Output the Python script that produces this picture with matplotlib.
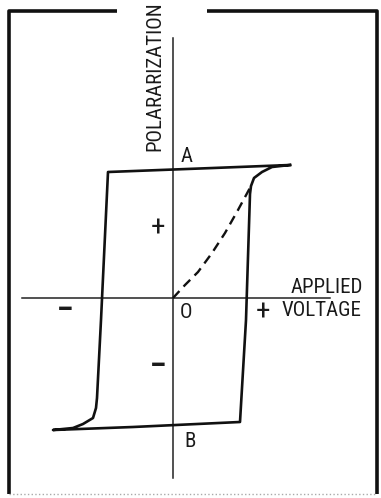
"""
Ferroelectric hysteresis loop sketch (polarization vs applied voltage).
"""

import matplotlib

matplotlib.use("Agg")
import matplotlib.pyplot as plt

# hysteresis loop, arbitrary units (origin O at 0, 0)
loop_v = [1.17, 0.40, -0.65, -0.72, -0.76, -0.77, -0.80, -0.90, -1.00, -1.20,
          -0.40, 0.67, 0.73, 0.77, 0.78, 0.81, 0.89, 0.99, 1.17]
loop_p = [1.33, 1.30, 1.26, -0.22, -1.00, -1.10, -1.20, -1.26, -1.30, -1.32,
          -1.29, -1.24, -0.22, 1.04, 1.12, 1.20, 1.26, 1.31, 1.33]

# initial polarization curve (dashed)
virgin_v = [0.00, 0.12, 0.25, 0.39, 0.52, 0.65, 0.78]
virgin_p = [0.00, 0.13, 0.26, 0.45, 0.65, 0.88, 1.12]

# axis extents
v_axis = [-1.51, 1.57]
p_axis = [-1.80, 2.60]

FONT = ["Roboto Condensed", "DejaVu Sans"]

fig = plt.figure(figsize=(3.81, 4.98), dpi=100)
ax = fig.add_axes([0, 0, 1, 1])
ax.set_xlim(-1.73, 2.08)
ax.set_ylim(-2.00, 2.98)
ax.axis("off")

# axes
ax.plot(v_axis, [0, 0], color="#222222", linewidth=1.1)
ax.plot([0, 0], p_axis, color="#222222", linewidth=1.1)

# loop and virgin curve
ax.plot(loop_v, loop_p, color="#111111", linewidth=1.9, solid_joinstyle="round")
ax.plot(virgin_v, virgin_p, color="#111111", linewidth=1.7, linestyle=(0, (4, 2.6)))

# frame with a gap for the axis title
frame_kw = dict(color="#111111", linewidth=2.6, solid_capstyle="butt")
ax.plot([-0.56, -1.64, -1.64], [2.87, 2.87, -1.96], **frame_kw)
ax.plot([0.34, 2.04, 2.04], [2.87, 2.87, -1.96], **frame_kw)
ax.plot([-1.64, 2.04], [-1.96, -1.96], color="#aaaaaa", linewidth=1.0, linestyle=":")

txt = dict(family=FONT, fontstretch="condensed", fontsize=15, color="#1a1a1a",
           ha="center", va="center")
sign = dict(txt, fontsize=21)
ax.text(-0.18, 2.22, "POLARARIZATION", rotation=90, **txt)
ax.text(0.14, 1.42, "A", **txt)
ax.text(0.17, -1.43, "B", **txt)
ax.text(0.13, -0.14, "O", **txt)
ax.text(-0.15, 0.70, "+", **sign)
ax.text(-0.15, -0.69, "\u2013", fontweight="bold", **sign)
ax.text(-1.08, -0.13, "\u2013", fontweight="bold", **sign)
ax.text(0.90, -0.14, "+", **sign)
ax.text(1.54, 0.11, "APPLIED", **txt)
ax.text(1.49, -0.12, "VOLTAGE", **txt)

fig.savefig("out.png", dpi=100)
plt.close(fig)
